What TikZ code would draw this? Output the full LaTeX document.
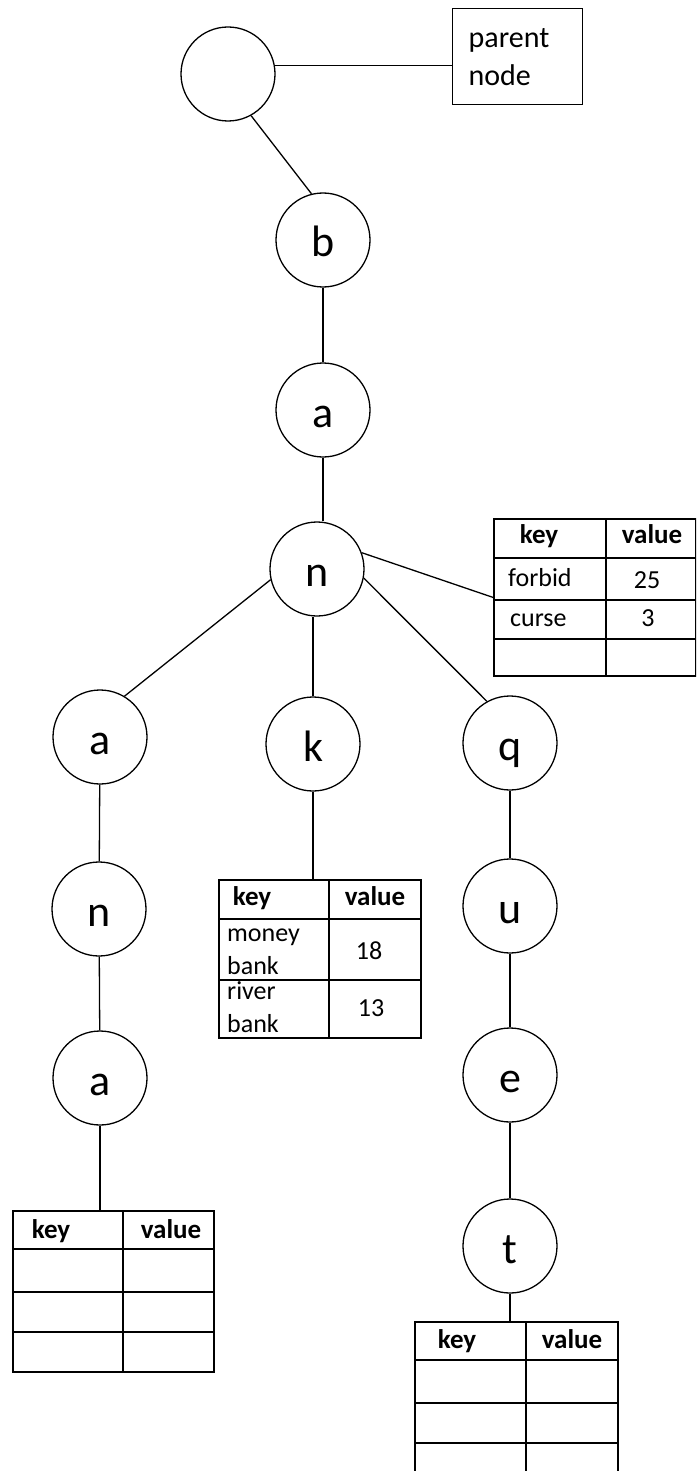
\documentclass[tikz,border=0pt]{standalone}
\usepackage{fontspec}
\setmainfont{Carlito}
\begin{document}
\begin{tikzpicture}[x=1pt,y=-1pt,
  letter/.style={draw, circle, line width=1.3pt, minimum size=94pt, inner sep=0pt,
                 text height=35pt, text depth=1pt, font=\fontsize{44}{44}\selectfont},
  edge/.style={line width=1.3pt},
  grid/.style={line width=1.8pt},
  tabbox/.style={draw, line width=1.8pt, inner sep=0pt, anchor=north west},
  hd/.style={font=\fontsize{27}{30}\selectfont\bfseries, anchor=base, inner sep=0pt},
  cell/.style={font=\fontsize{26}{30}\selectfont, anchor=base, inner sep=0pt},
  cellL/.style={cell, anchor=base west},
]
\useasboundingbox (0,0) rectangle (696,1471);
\clip (0,0) rectangle (696,1471);

% trie nodes
\node[letter] (root) at (228,74) {};
\node[letter] (b)  at (323,240) {b};
\node[letter] (a1) at (323,410) {a};
\node[letter] (n1) at (317,569) {n};
\node[letter] (a2) at (100,737) {a};
\node[letter] (k)  at (313,744) {k};
\node[letter] (q)  at (510,743) {q};
\node[letter] (n2) at (99,909)  {n};
\node[letter] (u)  at (510,906) {u};
\node[letter] (a3) at (100,1078) {a};
\node[letter] (e)  at (510,1075) {e};
\node[letter] (t)  at (510,1246) {t};

% label box for the root
\node[draw, line width=1.3pt, anchor=north west, minimum width=130pt, minimum height=96pt,
      text width=98pt, inner xsep=16pt, inner ysep=0pt, align=left,
      font=\fontsize{30}{38}\selectfont] (parent) at (452,8) {parent\\node};

% key/value table under n
\node[tabbox, minimum width=202pt, minimum height=157pt] (T1) at (493,518) {};
\draw[grid] (606,518) -- (606,675);
\draw[grid] (493,558) -- (695,558);
\draw[grid] (493,600) -- (695,600);
\draw[grid] (493,639) -- (695,639);
\node[hd] (t1h1) at (539,543) {key};
\node[hd] (t1h2) at (652,543) {value};
\node[cellL] (t1a) at (508,586) {forbid};
\node[cell]  (t1b) at (647,588) {25};
\node[cellL] (t1c) at (510,626) {curse};
\node[cell]  (t1d) at (648,626) {3};

% key/value table under k
\node[tabbox, minimum width=202pt, minimum height=158pt] (TK) at (218,879) {};
\draw[grid] (329,879) -- (329,1037);
\draw[grid] (218,919) -- (420,919);
\draw[grid] (218,980) -- (420,980);
\node[hd] (tkh1) at (252,905) {key};
\node[hd] (tkh2) at (375,905) {value};
\node[cellL] (tka1) at (227,941) {money};
\node[cellL] (tka2) at (227,974) {bank};
\node[cell]  (tkb)  at (369,959) {18};
\node[cellL] (tkc1) at (227,999) {river};
\node[cellL] (tkc2) at (227,1032) {bank};
\node[cell]  (tkd)  at (371,1016) {13};

% empty table under the left a
\node[tabbox, minimum width=201pt, minimum height=161pt] (TL) at (12,1210) {};
\draw[grid] (123,1210) -- (123,1371);
\draw[grid] (12,1249) -- (213,1249);
\draw[grid] (12,1292) -- (213,1292);
\draw[grid] (12,1332) -- (213,1332);
\node[hd] (tlh1) at (51,1238) {key};
\node[hd] (tlh2) at (171,1238) {value};

% empty table under t, running off the bottom
\node[tabbox, minimum width=203pt, minimum height=162pt] (TT) at (414,1321) {};
\draw[grid] (526,1321) -- (526,1483);
\draw[grid] (414,1360) -- (617,1360);
\draw[grid] (414,1403) -- (617,1403);
\draw[grid] (414,1443) -- (617,1443);
\node[hd] (tth1) at (457,1348) {key};
\node[hd] (tth2) at (572,1348) {value};

% connectors
\draw[edge] (root.10) -- (root.10 -| parent.west);
\draw[edge] (root.299) -- (b.104);
\draw[edge] (b) -- (a1);
\draw[edge] (a1.south) -- (a1.south |- n1.north);
\draw[edge] (n1.20) -- (T1.west);
\draw[edge] (n1.193) -- (a2.59);
\draw[edge] (k.north) -- (k.north |- n1.south);
\draw[edge] (n1.349) -- (q.119);
\draw[edge] (a2) -- (n2);
\draw[edge] (n2) -- (a3);
\draw[edge] (a3.south) -- (a3.south |- TL.north);
\draw[edge] (k.south) -- (k.south |- TK.north);
\draw[edge] (q) -- (u);
\draw[edge] (u) -- (e);
\draw[edge] (e) -- (t);
\draw[edge] (t.south) -- (t.south |- TT.north);
\end{tikzpicture}
\end{document}
